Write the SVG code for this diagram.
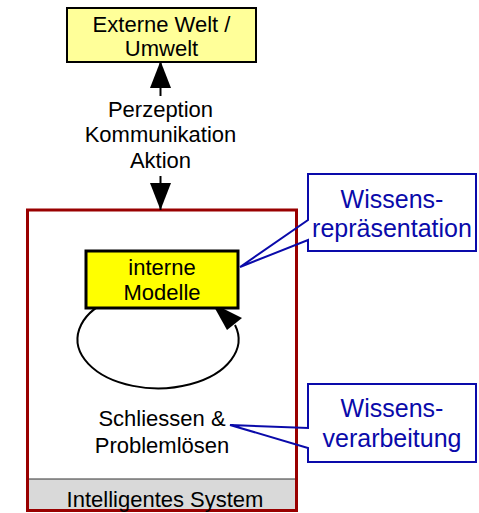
<svg xmlns="http://www.w3.org/2000/svg" width="479" height="513" viewBox="0 0 479 513">
  <style>
    .lbl { font-family: "Liberation Sans", Arial, sans-serif; font-size: 22px; fill: #000; text-anchor: middle; }
    .call { font-family: "Liberation Sans", Arial, sans-serif; font-size: 25px; fill: #0A0AAA; text-anchor: middle; }
    .callbox { fill: none; stroke: #0A0AAA; stroke-width: 2; stroke-linejoin: miter; }
    .conn { fill: none; stroke: #000; stroke-width: 2; }
  </style>
  <defs>
    <marker id="head" viewBox="0 0 27 21" refX="27" refY="10.5" markerWidth="27" markerHeight="21" markerUnits="userSpaceOnUse" orient="auto">
      <path d="M0,0 L27,10.5 L0,21 z" fill="#000"/>
    </marker>
  </defs>

  <rect width="479" height="513" fill="#fff"/>

  <!-- outer frame: intelligent system -->
  <g id="system">
    <rect x="27.5" y="479" width="269" height="31.5" fill="#D9D9D9"/>
    <line x1="27.5" y1="479" x2="296.5" y2="479" stroke="#333" stroke-width="1"/>
    <rect x="27.5" y="210" width="269" height="300.5" fill="none" stroke="#990000" stroke-width="3"/>
    <text class="lbl" x="165" y="507">Intelligentes System</text>
  </g>

  <!-- external world -->
  <g id="umwelt">
    <rect x="67" y="8" width="189" height="54" fill="#FFFF99" stroke="#000" stroke-width="2"/>
    <text class="lbl" x="161.5" y="32">Externe Welt /</text>
    <text class="lbl" x="161.5" y="56">Umwelt</text>
  </g>

  <!-- interaction label -->
  <g id="interaktion">
    <text class="lbl" x="160.5" y="117">Perzeption</text>
    <text class="lbl" x="160.5" y="142">Kommunikation</text>
    <text class="lbl" x="160.5" y="168">Aktion</text>
  </g>

  <!-- reasoning label -->
  <g id="schliessen">
    <text class="lbl" x="162" y="426">Schliessen &amp;</text>
    <text class="lbl" x="162" y="453">Problemlösen</text>
  </g>

  <g id="connectors">
    <line class="conn" x1="160.5" y1="96" x2="160.5" y2="61" marker-end="url(#head)"/>
    <line class="conn" x1="160.5" y1="176" x2="160.5" y2="210" marker-end="url(#head)"/>
    <!-- reasoning loop around the internal models -->
    <path class="conn" d="M110,300 A80.5,49 0 1 0 235,325"/>
    <polygon points="212,303 242,318 227,330" fill="#000"/>
  </g>

  <!-- internal models -->
  <g id="modelle">
    <rect x="86" y="251" width="152" height="57" fill="#FFFF00" stroke="#000" stroke-width="3"/>
    <text class="lbl" x="162" y="275">interne</text>
    <text class="lbl" x="162" y="300">Modelle</text>
  </g>

  <!-- callouts -->
  <g id="wissensrepraesentation">
    <path class="callbox" d="M308,220 L308,174 L476,174 L476,251 L308,251 L308,240 L240,267 Z"/>
    <text class="call" x="392" y="208">Wissens-</text>
    <text class="call" x="392" y="237">repräsentation</text>
  </g>
  <g id="wissensverarbeitung">
    <path class="callbox" d="M308,428 L308,384 L476,384 L476,462 L308,462 L308,448 L230,425 Z"/>
    <text class="call" x="392" y="417">Wissens-</text>
    <text class="call" x="392" y="447">verarbeitung</text>
  </g>
</svg>
